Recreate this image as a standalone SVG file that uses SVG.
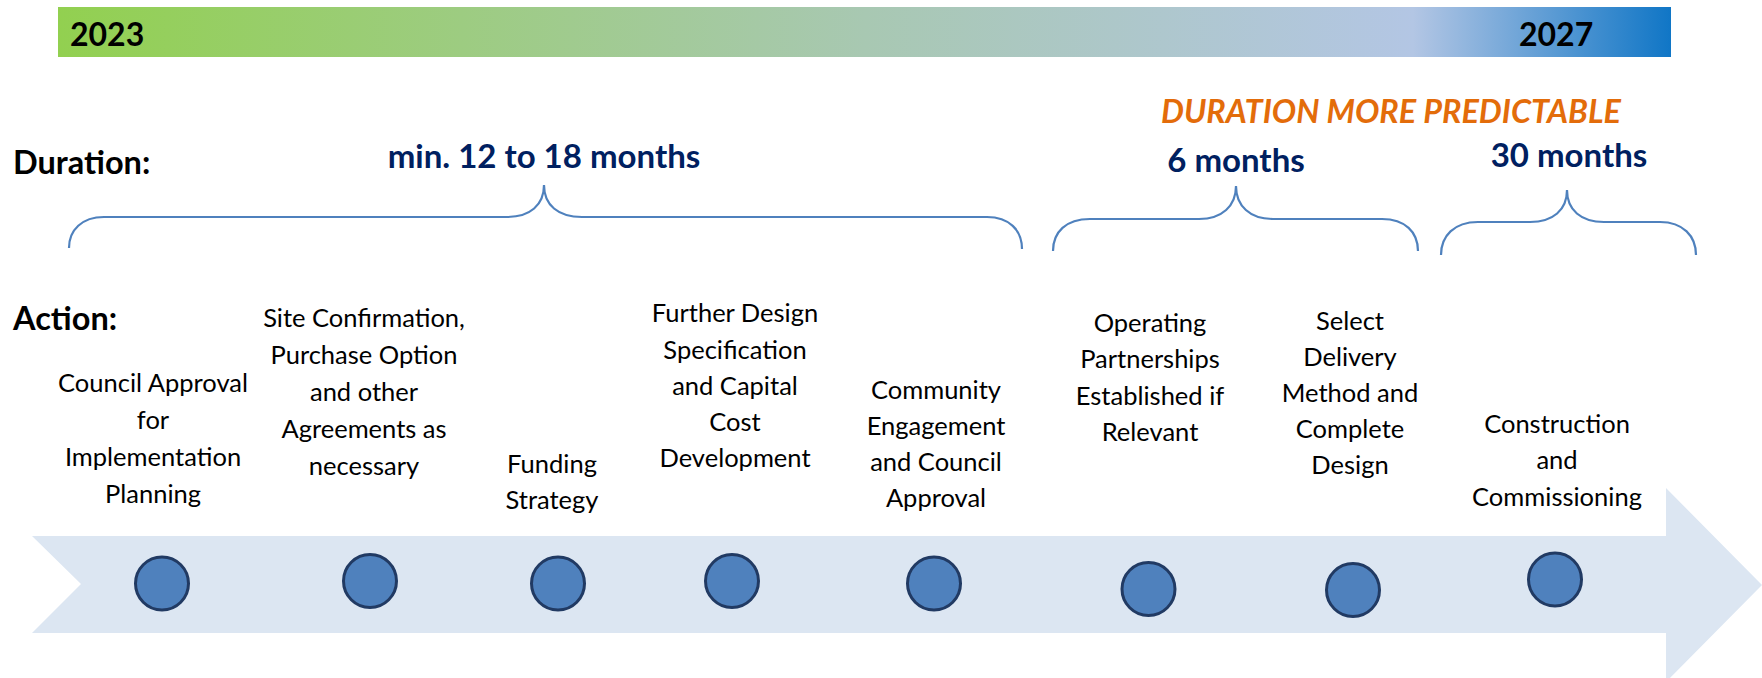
<svg xmlns="http://www.w3.org/2000/svg" width="1762" height="678" viewBox="0 0 1762 678">
<defs>
<linearGradient id="bar" x1="0" y1="0" x2="1" y2="0">
<stop offset="0" stop-color="#92D050"/>
<stop offset="0.5" stop-color="#A8C8B2"/>
<stop offset="0.84" stop-color="#B3C6E4"/>
<stop offset="1" stop-color="#1076C6"/>
</linearGradient>
<style>
.hd{font-family:Lato,"Liberation Sans",sans-serif;font-weight:700;font-size:32.5px;fill:#000}
.yr{font-family:Lato,"Liberation Sans",sans-serif;font-weight:700;font-size:32px;fill:#000}
.dur{font-family:Lato,"Liberation Sans",sans-serif;font-weight:700;font-size:33px;fill:#002060;text-anchor:middle}
.lbl{font-family:Lato,"Liberation Sans",sans-serif;font-size:25.5px;fill:#000;text-anchor:middle}
.brace{fill:none;stroke:#4F81BD;stroke-width:2.2}
.dot{fill:#4F81BD;stroke:#213A63;stroke-width:3}
</style>
</defs>
<rect x="0" y="0" width="1762" height="678" fill="#FFFFFF"/>
<g id="timebar">
<rect x="58" y="7" width="1613" height="50" fill="url(#bar)"/>
<text class="yr" x="70" y="46">2023</text>
<text class="yr" x="1519" y="46">2027</text>
</g>
<g id="arrow">
<path d="M32 536 L1666 536 L1666 488 L1762 585 L1666 682 L1666 633 L32 633 L81 584 Z" fill="#DCE6F2"/>
</g>
<g id="headings">
<text class="hd" x="13" y="174">Duration:</text>
<text class="hd" x="13" y="330">Action:</text>
<text x="1391" y="123" style="font-family:Lato,'Liberation Sans',sans-serif;font-weight:700;font-style:italic;font-size:32.4px;fill:#E36C0A;text-anchor:middle">DURATION MORE PREDICTABLE</text>
<text class="dur" x="544" y="168">min. 12 to 18 months</text>
<text class="dur" x="1236" y="172">6 months</text>
<text class="dur" x="1569" y="167">30 months</text>
</g>
<g id="connectors">
<path class="brace" d="M69 248 C69 230 82 217 104 217 L507 217 C530 217 544 205 544 185 C544 205 558 217 582 217 L987 217 C1009 217 1022 230 1022 249"/>
<path class="brace" d="M1053 251 C1053 232 1066 219 1090 219 L1199 219 C1222 219 1236 206 1236 186 C1236 206 1250 219 1273 219 L1382 219 C1405 219 1418 232 1418 251"/>
<path class="brace" d="M1441 255 C1441 236 1454 222 1478 222 L1530 222 C1553 222 1567 210 1567 190 C1567 210 1581 222 1604 222 L1660 222 C1683 222 1696 236 1696 255"/>
</g>
<g id="step1">
<text class="lbl"><tspan x="153" y="392">Council Approval</tspan><tspan x="153" y="428.5">for</tspan><tspan x="153" y="465.5">Implementation</tspan><tspan x="153" y="502.5">Planning</tspan></text>
<circle class="dot" cx="162" cy="583.5" r="26.5"/>
</g>
<g id="step2">
<text class="lbl"><tspan x="364" y="327">Site Confirmation,</tspan><tspan x="364" y="364">Purchase Option</tspan><tspan x="364" y="401">and other</tspan><tspan x="364" y="438">Agreements as</tspan><tspan x="364" y="474.5">necessary</tspan></text>
<circle class="dot" cx="370" cy="581" r="26.5"/>
</g>
<g id="step3">
<text class="lbl"><tspan x="552" y="472.5">Funding</tspan><tspan x="552" y="508.5">Strategy</tspan></text>
<circle class="dot" cx="558" cy="583.5" r="26.5"/>
</g>
<g id="step4">
<text class="lbl"><tspan x="735" y="322">Further Design</tspan><tspan x="735" y="358.5">Specification</tspan><tspan x="735" y="395">and Capital</tspan><tspan x="735" y="431">Cost</tspan><tspan x="735" y="467">Development</tspan></text>
<circle class="dot" cx="732" cy="581" r="26.5"/>
</g>
<g id="step5">
<text class="lbl"><tspan x="936" y="399">Community</tspan><tspan x="936" y="435">Engagement</tspan><tspan x="936" y="471">and Council</tspan><tspan x="936" y="507">Approval</tspan></text>
<circle class="dot" cx="934" cy="583.5" r="26.5"/>
</g>
<g id="step6">
<text class="lbl"><tspan x="1150" y="332">Operating</tspan><tspan x="1150" y="368">Partnerships</tspan><tspan x="1150" y="404.5">Established if</tspan><tspan x="1150" y="440.5">Relevant</tspan></text>
<circle class="dot" cx="1148.5" cy="589" r="26.5"/>
</g>
<g id="step7">
<text class="lbl"><tspan x="1350" y="330">Select</tspan><tspan x="1350" y="366">Delivery</tspan><tspan x="1350" y="402">Method and</tspan><tspan x="1350" y="438">Complete</tspan><tspan x="1350" y="473.5">Design</tspan></text>
<circle class="dot" cx="1353" cy="590" r="26.5"/>
</g>
<g id="step8">
<text class="lbl"><tspan x="1557" y="433">Construction</tspan><tspan x="1557" y="469">and</tspan><tspan x="1557" y="505.5">Commissioning</tspan></text>
<circle class="dot" cx="1555" cy="579.5" r="26.5"/>
</g>
</svg>
